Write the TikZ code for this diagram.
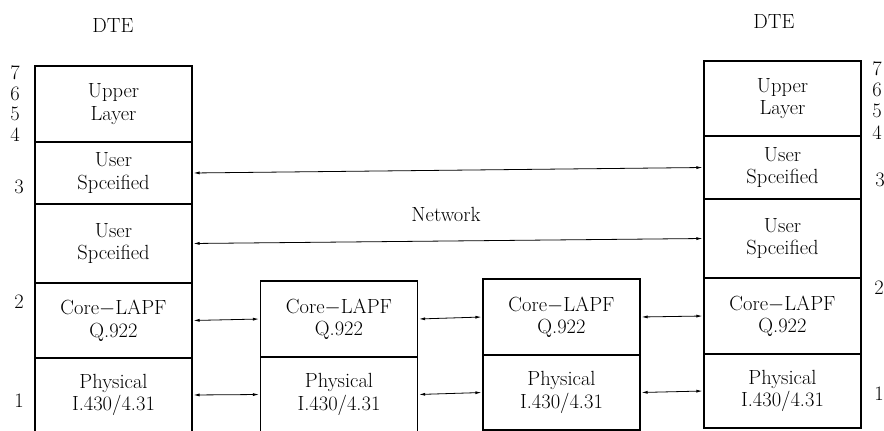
\documentclass[tikz,border=0pt]{standalone}
\usetikzlibrary{arrows.meta}
\begin{document}
\begin{tikzpicture}[x=1pt,y=-1pt,
  every node/.style={font=\fontsize{20.5}{22.5}\selectfont},
  layerbox/.style={draw,line width=1.1pt,inner sep=0pt,minimum width=157pt,align=center},
  lbl/.style={inner sep=0pt,anchor=center},
  link/.style={{Latex[length=6pt,width=3pt]}-{Latex[length=6pt,width=3pt]},line width=0.8pt,shorten <=1pt,shorten >=1pt}]
\useasboundingbox (0,0) rectangle (884,431);
% left DTE stack
\node[layerbox,minimum height=76pt] (LU) at (113.5,104) {Upper\\Layer};
\node[layerbox,minimum height=62pt] (LS1) at (113.5,173) {User\\Spceified};
\node[layerbox,minimum height=79pt] (LS2) at (113.5,243.5) {User\\Spceified};
\node[layerbox,minimum height=75pt] (LC) at (113.5,320.5) {Core$-$LAPF\\Q.922};
\node[layerbox,minimum height=74pt] (LP) at (113.5,395) {Physical\\I.430/4.31};
% middle node 1
\node[layerbox,minimum height=76pt] (M1C) at (339,319) {Core$-$LAPF\\Q.922};
\node[layerbox,minimum height=75pt] (M1P) at (339,394.5) {Physical\\I.430/4.31};
% middle node 2
\node[layerbox,minimum height=76pt] (M2C) at (561.5,317) {Core$-$LAPF\\Q.922};
\node[layerbox,minimum height=75pt] (M2P) at (561.5,392.5) {Physical\\I.430/4.31};
% right DTE stack
\node[layerbox,minimum height=75pt] (RU) at (782.5,98.5) {Upper\\Layer};
\node[layerbox,minimum height=63pt] (RS1) at (782.5,167.5) {User\\Spceified};
\node[layerbox,minimum height=79pt] (RS2) at (782.5,238.5) {User\\Spceified};
\node[layerbox,minimum height=76pt] (RC) at (782.5,316) {Core$-$LAPF\\Q.922};
\node[layerbox,minimum height=74pt] (RP) at (782.5,391) {Physical\\I.430/4.31};
% titles
\node[lbl] (dteL) at (113,25) {DTE};
\node[lbl] (dteR) at (774,21) {DTE};
\node[lbl] (net) at (446,214) {Network};
% layer numbers left
\node[lbl] (l7) at (15,73) {7};
\node[lbl] (l6) at (15,94) {6};
\node[lbl] (l5) at (15,114) {5};
\node[lbl] (l4) at (15,135) {4};
\node[lbl] (l3) at (19,187) {3};
\node[lbl] (l2) at (19,302) {2};
\node[lbl] (l1) at (19,401) {1};
% layer numbers right
\node[lbl] (r7) at (877,69) {7};
\node[lbl] (r6) at (877,90) {6};
\node[lbl] (r5) at (877,111) {5};
\node[lbl] (r4) at (877,133) {4};
\node[lbl] (r3) at (880,180) {3};
\node[lbl] (r2) at (879,288) {2};
\node[lbl] (r1) at (879,394) {1};
% connectors
\draw[link] (LS1.east) -- (RS1.west);
\draw[link] (LS2.east) -- (RS2.west);
\draw[link] (LC.east) -- (M1C.west);
\draw[link] (M1C.east) -- (M2C.west);
\draw[link] (M2C.east) -- (RC.west);
\draw[link] (LP.east) -- (M1P.west);
\draw[link] (M1P.east) -- (M2P.west);
\draw[link] (M2P.east) -- (RP.west);
\end{tikzpicture}
\end{document}
